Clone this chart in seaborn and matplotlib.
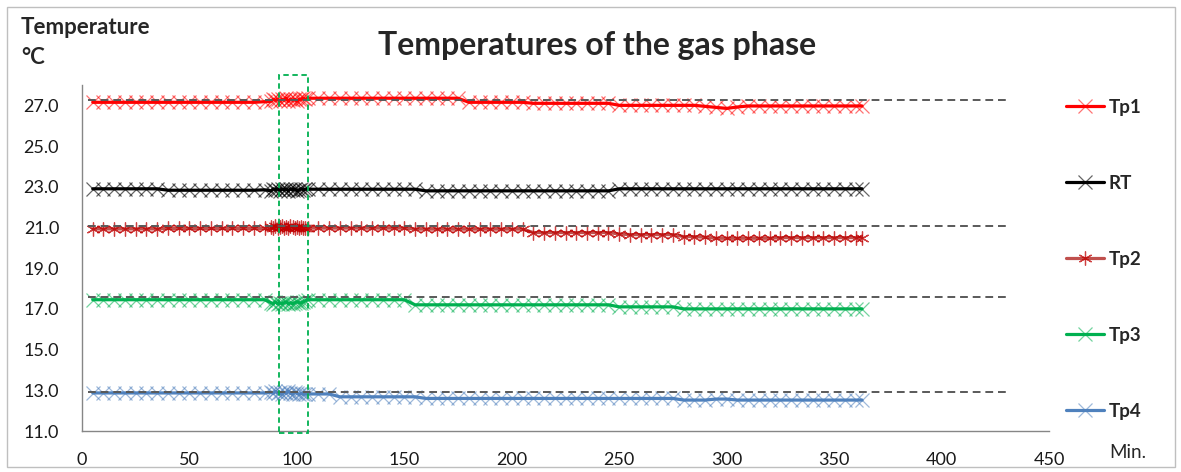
import numpy as np
import pandas as pd
import matplotlib
matplotlib.use("Agg")
import matplotlib.pyplot as plt
from matplotlib.patches import Rectangle
from matplotlib.ticker import MultipleLocator, FormatStrFormatter
from matplotlib.colors import to_rgba
import seaborn as sns

# ---------------- data ----------------
minutes = [5, 10, 15, 20, 25, 30, 35, 40, 45, 50, 55, 60, 65, 70, 75, 80, 85,
           88, 89, 90, 91, 92, 93, 94, 95, 96, 97, 98, 99, 100, 101, 102, 103, 104,
           105, 110, 115, 120, 125, 130, 135, 140, 145, 150,
           155, 160, 165, 170, 175, 180, 185, 190, 195, 200,
           205, 210, 215, 220, 225, 230, 235, 240, 245, 250,
           255, 260, 265, 270, 275, 280, 285, 290, 295, 300,
           305, 310, 315, 320, 325, 330, 335, 340, 345, 350,
           355, 360, 363]

tp1 = [27.15, 27.15, 27.15, 27.15, 27.15, 27.15, 27.15, 27.15, 27.15, 27.15, 27.15, 27.15, 27.15, 27.15, 27.15, 27.15, 27.18,
       27.2, 27.3, 27.25, 27.3, 27.2, 27.3, 27.25, 27.35, 27.2, 27.3, 27.25, 27.3, 27.2, 27.3, 27.3, 27.35, 27.3,
       27.35, 27.35, 27.35, 27.35, 27.35, 27.35, 27.35, 27.35, 27.35, 27.35,
       27.35, 27.35, 27.35, 27.35, 27.35, 27.15, 27.15, 27.15, 27.15, 27.15,
       27.15, 27.1, 27.1, 27.1, 27.1, 27.1, 27.1, 27.1, 27.1, 27.0,
       27.0, 27.0, 27.0, 27.0, 27.0, 27.0, 27.0, 26.95, 26.9, 26.85,
       26.92, 26.97, 26.97, 26.97, 26.97, 26.97, 26.97, 26.97, 26.97, 26.97,
       26.97, 26.97, 26.97]

rt = [22.9, 22.9, 22.9, 22.9, 22.9, 22.9, 22.9, 22.83, 22.83, 22.83, 22.83, 22.83, 22.83, 22.83, 22.83, 22.83, 22.85,
      22.8, 22.9, 22.85, 22.9, 22.8, 22.9, 22.85, 22.9, 22.8, 22.9, 22.85, 22.9, 22.8, 22.85, 22.9, 22.85, 22.88,
      22.88, 22.88, 22.88, 22.88, 22.88, 22.88, 22.88, 22.88, 22.88, 22.88,
      22.88, 22.8, 22.8, 22.8, 22.8, 22.8, 22.8, 22.8, 22.8, 22.8,
      22.8, 22.8, 22.8, 22.8, 22.8, 22.8, 22.8, 22.8, 22.8, 22.9,
      22.9, 22.9, 22.9, 22.9, 22.9, 22.9, 22.9, 22.9, 22.9, 22.9,
      22.9, 22.9, 22.9, 22.9, 22.9, 22.9, 22.9, 22.9, 22.9, 22.9,
      22.9, 22.9, 22.9]

tp2 = [20.93, 20.93, 20.93, 20.93, 20.93, 20.93, 20.93, 20.95, 20.95, 20.95, 20.95, 20.95, 20.95, 20.95, 20.95, 20.95, 20.95,
       21.0, 20.95, 21.05, 20.95, 21.0, 21.05, 20.95, 21.0, 20.95, 21.05, 21.0, 20.95, 21.0, 20.95, 21.0, 20.95, 20.95,
       20.97, 20.97, 20.97, 20.97, 20.97, 20.97, 20.97, 20.97, 20.97, 20.97,
       20.92, 20.92, 20.92, 20.92, 20.92, 20.92, 20.92, 20.92, 20.92, 20.92,
       20.92, 20.75, 20.75, 20.75, 20.75, 20.75, 20.75, 20.75, 20.75, 20.68,
       20.65, 20.65, 20.65, 20.65, 20.65, 20.55, 20.55, 20.52, 20.47, 20.47,
       20.47, 20.47, 20.47, 20.47, 20.5, 20.5, 20.5, 20.5, 20.5, 20.5,
       20.5, 20.5, 20.5]

tp3 = [17.45, 17.45, 17.45, 17.45, 17.45, 17.45, 17.45, 17.45, 17.45, 17.45, 17.45, 17.45, 17.45, 17.45, 17.45, 17.45, 17.45,
       17.3, 17.25, 17.35, 17.25, 17.3, 17.25, 17.3, 17.35, 17.25, 17.3, 17.25, 17.3, 17.35, 17.3, 17.3, 17.35, 17.4,
       17.45, 17.45, 17.45, 17.45, 17.45, 17.45, 17.45, 17.45, 17.45, 17.45,
       17.2, 17.2, 17.2, 17.2, 17.2, 17.2, 17.2, 17.2, 17.2, 17.2,
       17.2, 17.2, 17.2, 17.2, 17.2, 17.2, 17.2, 17.2, 17.2, 17.1,
       17.1, 17.1, 17.1, 17.1, 17.1, 17.0, 17.0, 17.0, 17.0, 17.0,
       17.0, 17.0, 17.0, 17.0, 17.0, 17.0, 17.0, 17.0, 17.0, 17.0,
       17.0, 17.0, 17.0]

tp4 = [12.87, 12.87, 12.87, 12.87, 12.87, 12.87, 12.87, 12.87, 12.87, 12.87, 12.87, 12.87, 12.87, 12.87, 12.87, 12.87, 12.87,
       12.9, 12.85, 12.95, 12.85, 12.9, 12.8, 12.9, 12.85, 12.95, 12.85, 12.8, 12.9, 12.85, 12.8, 12.85, 12.8, 12.82,
       12.82, 12.82, 12.82, 12.68, 12.68, 12.68, 12.68, 12.68, 12.68, 12.68,
       12.68, 12.6, 12.6, 12.6, 12.6, 12.6, 12.6, 12.6, 12.6, 12.6,
       12.6, 12.6, 12.6, 12.6, 12.6, 12.6, 12.6, 12.6, 12.6, 12.6,
       12.6, 12.6, 12.6, 12.6, 12.6, 12.52, 12.52, 12.52, 12.57, 12.57,
       12.52, 12.52, 12.52, 12.52, 12.52, 12.52, 12.52, 12.52, 12.52, 12.52,
       12.52, 12.52, 12.52]

series_names = ["Tp1", "RT", "Tp2", "Tp3", "Tp4"]
ref_levels = [27.28, 21.05, 17.6, 12.93]
ref_span = [3, 432]
x_ticks = [0, 50, 100, 150, 200, 250, 300, 350, 400, 450]
y_ticks = [11.0, 13.0, 15.0, 17.0, 19.0, 21.0, 23.0, 25.0, 27.0]
highlight_window = [91.7, 105.2]

# ---------------- style ----------------
sns.set_style("white")
plt.rcParams["font.family"] = ["Lato", "DejaVu Sans"]

line_colors = {"Tp1": "#FF0000", "RT": "#000000", "Tp2": "#C0504D",
               "Tp3": "#00B050", "Tp4": "#4F81BD"}
marker_colors = {"Tp1": to_rgba("#FF0000", 0.55), "RT": to_rgba("#000000", 0.6),
                 "Tp2": to_rgba("#C00000", 0.75), "Tp3": to_rgba("#00B050", 0.55),
                 "Tp4": to_rgba("#4F81BD", 0.55)}
markers = {"Tp1": "x", "RT": "x", "Tp2": (6, 2, 0), "Tp3": "x", "Tp4": "x"}

fig = plt.figure(figsize=(11.81, 4.72), dpi=100)
ax = fig.add_axes([82 / 1181, 1 - 431 / 472, (1049 - 82) / 1181, (431 - 85) / 472])

values = {"Tp1": tp1, "RT": rt, "Tp2": tp2, "Tp3": tp3, "Tp4": tp4}
handles = []
for name in series_names:
    df = pd.DataFrame({"min": minutes, "temp": values[name]})
    sns.lineplot(data=df, x="min", y="temp", ax=ax, color=line_colors[name],
                 linewidth=2.3, marker=markers[name], markersize=10,
                 markeredgewidth=0.9, markeredgecolor=marker_colors[name],
                 markerfacecolor="none", label=name, legend=False,
                 estimator=None, sort=False)
    handles.append(ax.lines[-1])

# dashed reference lines
for lvl in ref_levels:
    sns.lineplot(x=ref_span, y=[lvl, lvl], ax=ax, color="#595959",
                 linewidth=1.4, linestyle=(0, (4, 2.5)), legend=False)

# highlight window
ax.add_patch(Rectangle((highlight_window[0], 10.9),
                       highlight_window[1] - highlight_window[0], 28.5 - 10.9,
                       fill=False, edgecolor="#00B050", linewidth=1.3,
                       linestyle=(0, (3, 2)), clip_on=False, zorder=5))

ax.set_xlim(0, 450)
ax.set_ylim(11, 28)
ax.set_xticks(x_ticks)
ax.xaxis.set_minor_locator(MultipleLocator(10))
ax.set_yticks(y_ticks)
ax.yaxis.set_major_formatter(FormatStrFormatter("%.1f"))
ax.set_xlabel("")
ax.set_ylabel("")
for s in ["top", "right"]:
    ax.spines[s].set_visible(False)
for s in ["left", "bottom"]:
    ax.spines[s].set_color("#868686")
    ax.spines[s].set_linewidth(1.0)
ax.tick_params(axis="both", which="both", direction="out", color="#868686",
               labelsize=13, labelcolor="#1a1a1a")
ax.tick_params(axis="y", length=7, pad=9.5)
ax.tick_params(axis="x", which="major", length=7, pad=8)
ax.tick_params(axis="x", which="minor", length=6)

fig.suptitle("Temperatures of the gas phase", x=597 / 1181, y=1 - 46 / 472,
             va="center", fontsize=23, fontweight="bold")
fig.text(21 / 1181, 1 - 28 / 472, "Temperature", fontsize=16,
         fontweight="bold", va="center", ha="left")
fig.text(21 / 1181, 1 - 57 / 472, "°C", fontsize=16,
         fontweight="bold", va="center", ha="left")
fig.text(1109 / 1181, 1 - 453 / 472, "Min.", fontsize=13.5, va="center",
         ha="left", color="#262626")

leg = fig.legend(handles, series_names, loc="upper left",
                 bbox_to_anchor=(1066 / 1181, 1 - 99 / 472), frameon=False,
                 borderpad=0, borderaxespad=0,
                 labelspacing=3.14, handlelength=2.0, handletextpad=0.27,
                 prop={"weight": "bold", "size": 13.5})

fig.add_artist(Rectangle((7 / 1181, 1 - 467 / 472), (1175 - 7) / 1181,
                         (467 - 7) / 472, transform=fig.transFigure,
                         fill=False, edgecolor="#BFBFBF", linewidth=1.0))

fig.savefig("out.png", dpi=100)
